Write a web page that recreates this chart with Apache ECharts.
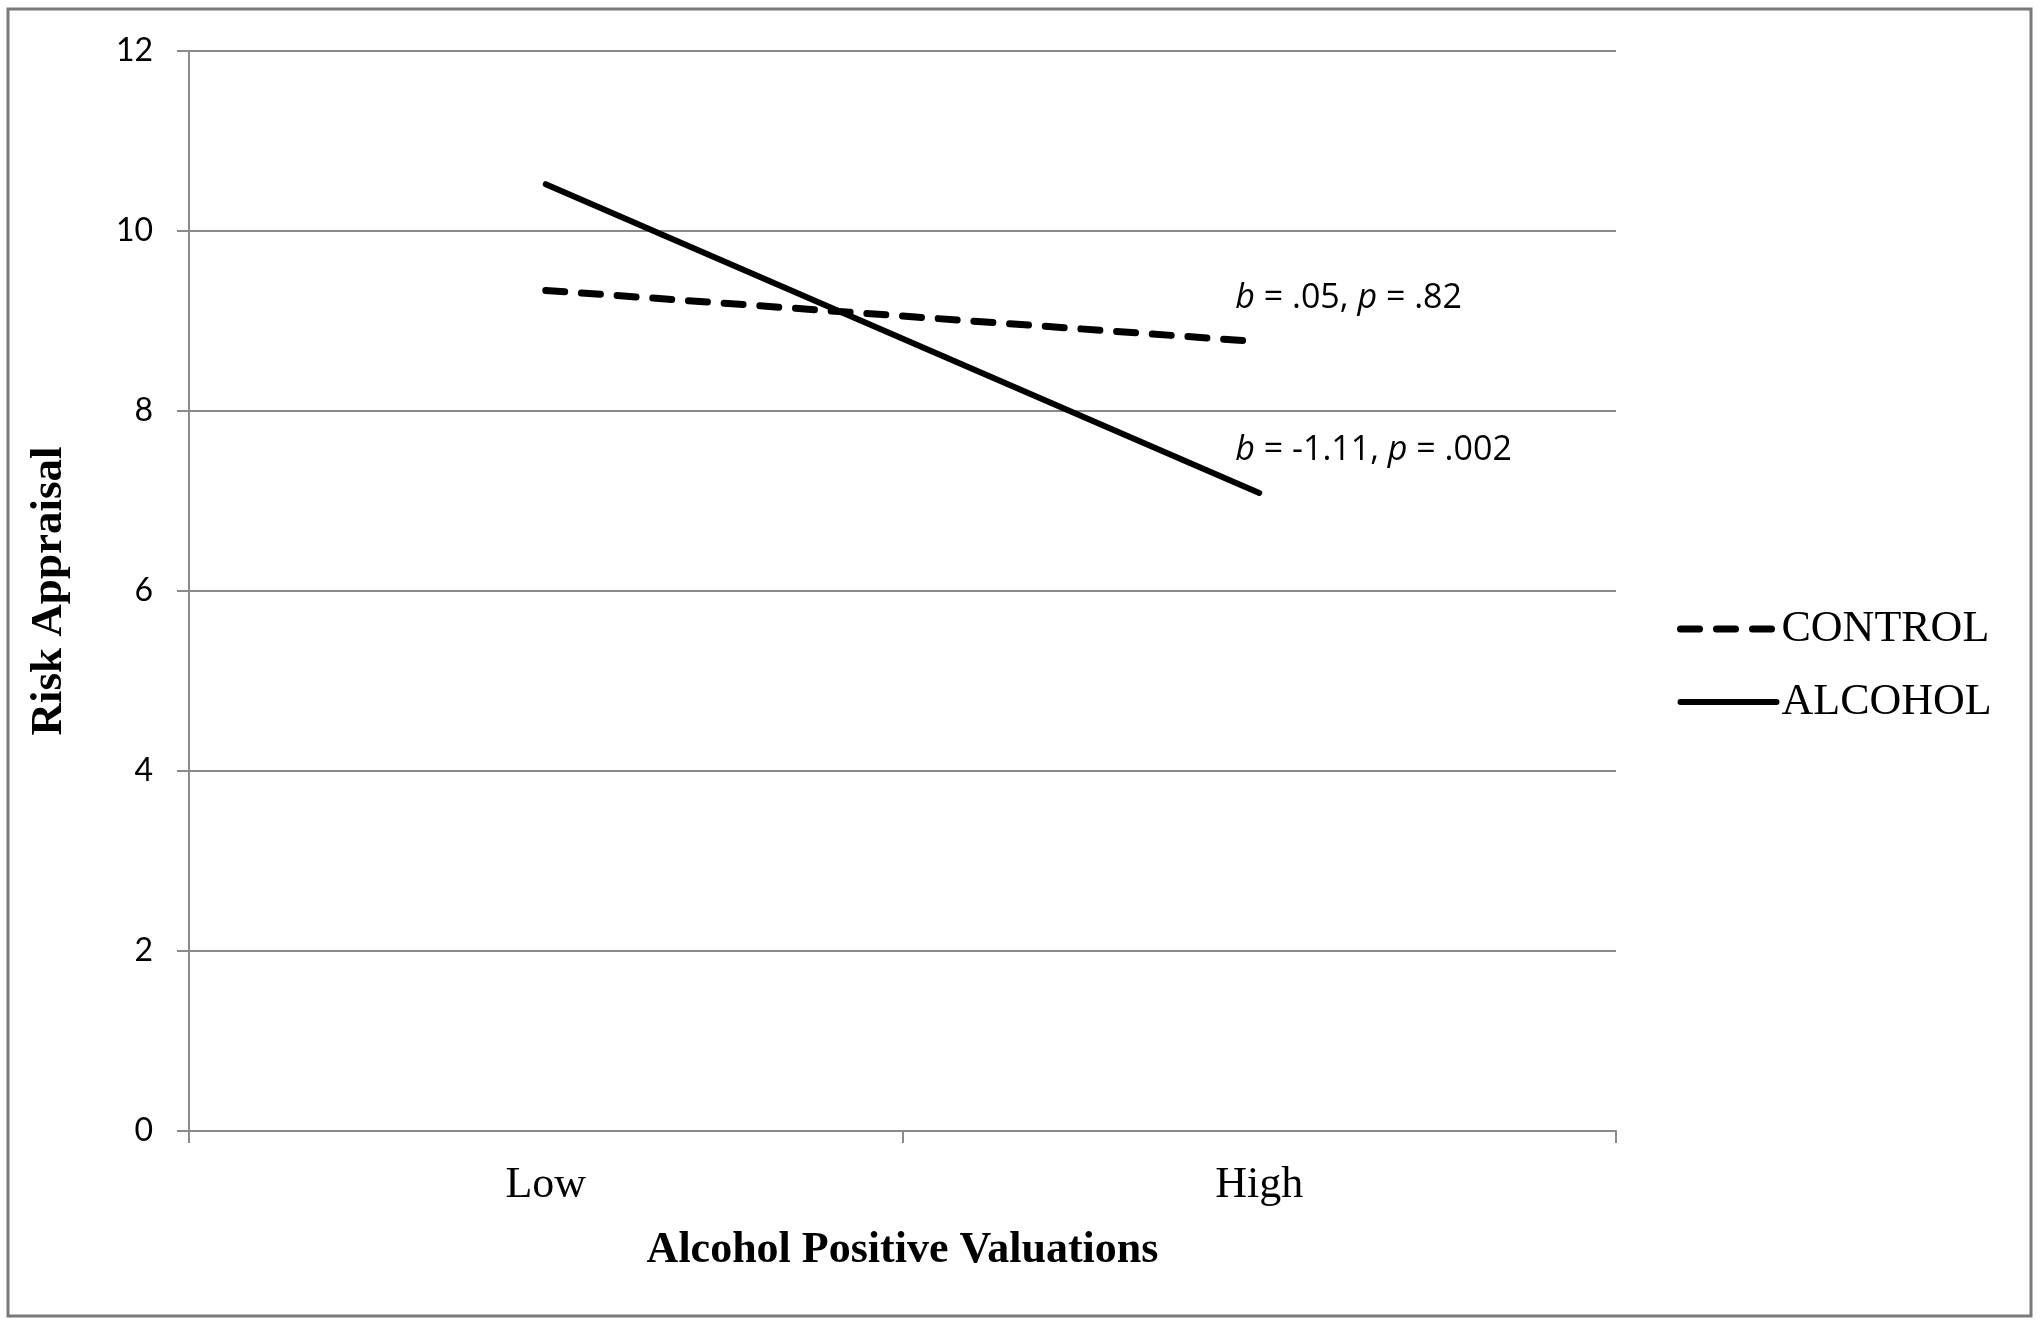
<!DOCTYPE html>
<html>
<head>
<meta charset="utf-8">
<script src="https://cdn.jsdelivr.net/npm/echarts@6/dist/echarts.min.js"></script>
<style>
html,body{margin:0;padding:0;background:#fff;}
#c{width:2040px;height:1325px;}
</style>
</head>
<body>
<div id="c"></div>
<script>
const categories = ['Low', 'High'];
const controlValues = [9.34, 8.77];
const alcoholValues = [10.52, 7.09];
const yTicks = { min: 0, max: 12, interval: 2 };
const seriesNames = ['CONTROL', 'ALCOHOL'];
const annotations = [
  { series: 0, idx: 1, parts: ['b', ' = .05, ', 'p', ' = .82'] },
  { series: 1, idx: 1, parts: ['b', ' = -1.11, ', 'p', ' = .002'] }
];

const chart = echarts.init(document.getElementById('c'), null, { renderer: 'canvas' });
const gray = '#8a8a8a';
const dashStyle = { color: '#000', width: 7, type: [19, 16.77], cap: 'round' };
const solidStyle = { color: '#000', width: 6, type: 'solid', cap: 'round' };
const option = {
  backgroundColor: '#fff',
  animation: false,
  grid: { left: 189, right: 424, top: 51, bottom: 194, containLabel: false },
  xAxis: {
    type: 'category',
    data: categories,
    boundaryGap: true,
    name: 'Alcohol Positive Valuations',
    nameLocation: 'middle',
    nameGap: 98,
    nameTextStyle: { fontFamily: 'Liberation Serif', fontWeight: 'bold', fontSize: 44, color: '#000' },
    axisLine: { lineStyle: { color: gray, width: 2 } },
    axisTick: { show: true, length: 12, lineStyle: { color: gray, width: 2 } },
    axisLabel: { fontFamily: 'Liberation Serif', fontSize: 44, color: '#000', margin: 32 },
    splitLine: { show: false }
  },
  yAxis: {
    type: 'value',
    min: yTicks.min, max: yTicks.max, interval: yTicks.interval,
    name: 'Risk Appraisal',
    nameLocation: 'middle',
    nameGap: 117,
    nameRotate: 90,
    nameTextStyle: { fontFamily: 'Liberation Serif', fontWeight: 'bold', fontSize: 45, color: '#000' },
    axisLine: { show: true, lineStyle: { color: gray, width: 2 } },
    axisTick: { show: true, length: 12, lineStyle: { color: gray, width: 2 } },
    axisLabel: { fontFamily: 'Lato', fontSize: 32, color: '#000', margin: 36 },
    splitLine: { show: true, lineStyle: { color: gray, width: 2 } }
  },
  legend: {
    orient: 'vertical',
    left: 1672,
    top: 602,
    itemWidth: 96,
    itemHeight: 14,
    itemGap: 29,
    itemStyle: { opacity: 0 },
    textStyle: { fontFamily: 'Liberation Serif', fontSize: 44, color: '#000' },
    data: [
      { name: seriesNames[0], lineStyle: { width: 7, type: [19, 17], cap: 'round', color: '#000' } },
      { name: seriesNames[1], lineStyle: { width: 6, type: 'solid', cap: 'round', color: '#000' } }
    ]
  },
  series: [
    {
      name: seriesNames[0], type: 'line', data: controlValues,
      symbol: 'none', showSymbol: false,
      lineStyle: dashStyle,
      itemStyle: { color: '#000' }
    },
    {
      name: seriesNames[1], type: 'line', data: alcoholValues,
      symbol: 'none', showSymbol: false,
      lineStyle: solidStyle,
      itemStyle: { color: '#000' }
    }
  ],
  graphic: []
};
chart.setOption(option);

const seriesData = [controlValues, alcoholValues];
const g = [
  { type: 'rect', shape: { x: 8, y: 9, width: 2023, height: 1307 },
    style: { fill: 'none', stroke: '#7a7a7a', lineWidth: 3 }, silent: true }
];
annotations.forEach(a => {
  const p = chart.convertToPixel({ gridIndex: 0 }, [a.idx, seriesData[a.series][a.idx]]);
  g.push({
    type: 'text',
    x: p[0] - 24,
    y: p[1] - 43,
    style: {
      text: '{i|' + a.parts[0] + '}{n|' + a.parts[1] + '}{i|' + a.parts[2] + '}{n|' + a.parts[3] + '}',
      rich: {
        i: { fontFamily: 'Open Sans', fontStyle: 'italic', fontSize: 34, fill: '#000' },
        n: { fontFamily: 'Open Sans', fontSize: 34, fill: '#000' }
      },
      verticalAlign: 'middle', align: 'left'
    }
  });
});
chart.setOption({ graphic: g });
</script>
</body>
</html>
